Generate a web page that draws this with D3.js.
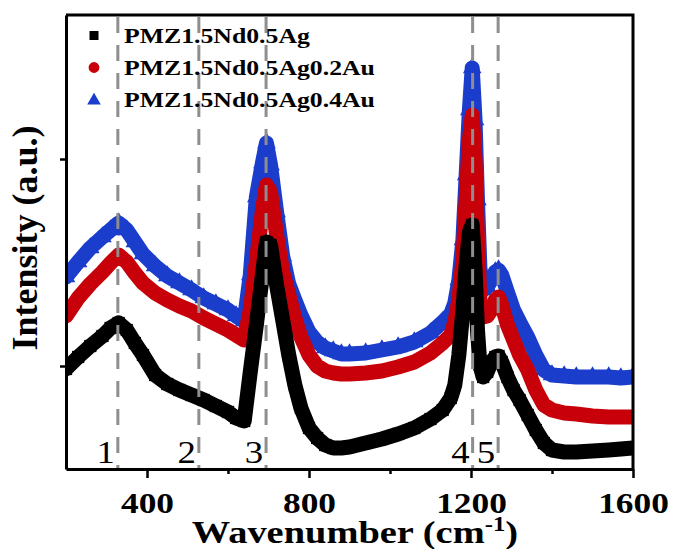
<!DOCTYPE html>
<html>
<head>
<meta charset="utf-8">
<script src="https://cdn.jsdelivr.net/npm/d3@7"></script>
<style>
  html, body { margin: 0; padding: 0; background: #fff; }
  svg { display: block; }
</style>
</head>
<body>
<svg id="chart" width="673" height="549"></svg>
<script>
// Raman spectra of PMZ1.5Nd0.5Ag ceramics with increasing Au content
const wavenumbers = [
  200, 230, 260, 290, 310, 330, 350, 370, 390, 420,
  450, 480, 510, 540, 570, 600, 620, 640, 655, 670,
  685, 695, 705, 720, 735, 750, 765, 780, 800, 820,
  840, 860, 880, 900, 940, 980, 1020, 1060, 1100, 1130,
  1150, 1160, 1170, 1180, 1188, 1196, 1203, 1210, 1216, 1222,
  1230, 1240, 1250, 1260, 1268, 1276, 1290, 1305, 1320, 1340,
  1360, 1380, 1400, 1430, 1460, 1500, 1540, 1570, 1600
];

// intensity (a.u.), one value per wavenumber
const intensityAg = [
  1000, 1120, 1230, 1330, 1410, 1460, 1390, 1260, 1140, 940,
  850, 790, 740, 690, 630, 570, 510, 480, 970, 1440,
  1940, 2270, 2240, 1840, 1490, 1140, 840, 610, 410, 310,
  240, 210, 210, 220, 260, 300, 350, 410, 500, 590,
  710, 840, 1140, 1590, 2040, 2370, 2440, 1990, 1390, 1040,
  920, 970, 1070, 1120, 1130, 1070, 920, 790, 690, 540,
  390, 260, 190, 170, 170, 180, 190, 200, 210
];
const intensityAg02Au = [
  1530, 1710, 1850, 1970, 2060, 2140, 2070, 1960, 1860, 1760,
  1690, 1630, 1580, 1510, 1450, 1390, 1340, 1290, 1590, 2070,
  2590, 2840, 2770, 2340, 1970, 1740, 1510, 1320, 1140, 1030,
  980, 960, 950, 950, 960, 980, 1020, 1070, 1160, 1260,
  1340, 1470, 1690, 2090, 2690, 3290, 3540, 3090, 2290, 1690,
  1520, 1530, 1590, 1690, 1720, 1640, 1440, 1290, 1140, 990,
  790, 640, 590, 560, 550, 530, 520, 520, 520
];
const intensityAg04Au = [
  1920, 2070, 2210, 2320, 2390, 2460, 2390, 2270, 2150, 2030,
  1930, 1860, 1790, 1710, 1650, 1590, 1530, 1480, 1940, 2720,
  3060, 3260, 3040, 2570, 2130, 1850, 1690, 1540, 1370, 1270,
  1210, 1180, 1150, 1150, 1160, 1190, 1220, 1270, 1360, 1470,
  1550, 1660, 1890, 2290, 2940, 3590, 4010, 3490, 2690, 2010,
  1790, 1820, 1890, 1970, 1990, 1940, 1770, 1590, 1470, 1320,
  1140, 990, 940, 930, 920, 920, 920, 910, 920
];

const seriesNames = ["PMZ1.5Nd0.5Ag", "PMZ1.5Nd0.5Ag0.2Au", "PMZ1.5Nd0.5Ag0.4Au"];
const seriesColors = ["#000000", "#c8000a", "#1b3dcc"];
const seriesSymbols = [d3.symbolSquare, d3.symbolCircle, d3.symbolTriangle];

const xTickValues = [400, 800, 1200, 1600];
const xMinorTickValues = [600, 1000, 1400];
const yTickValues = [1030, 3100];

// Raman mode positions marked with dashed lines
const bandPositions = [328, 528, 694, 1204, 1267];
const bandLabels = ["1", "2", "3", "4", "5"];

const svg = d3.select("#chart");
const W = 673, H = 549;
const plot = { left: 66, right: 633, top: 15, bottom: 469 };

svg.append("rect").attr("width", W).attr("height", H).attr("fill", "#fff");

const x = d3.scaleLinear().domain([200, 1600]).range([plot.left, plot.right]);
const y = d3.scaleLinear().domain([0, 4540]).range([plot.bottom, plot.top]);

svg.append("defs").append("clipPath").attr("id", "plotClip")
  .append("rect")
  .attr("x", plot.left).attr("y", plot.top)
  .attr("width", plot.right - plot.left).attr("height", plot.bottom - plot.top);

const series = [intensityAg, intensityAg02Au, intensityAg04Au].map((vals, i) => ({
  name: seriesNames[i],
  color: seriesColors[i],
  symbol: seriesSymbols[i],
  points: wavenumbers.map((w, j) => ({ w, v: vals[j] }))
}));

const dataLayer = svg.append("g").attr("clip-path", "url(#plotClip)");
const line = d3.line().x(d => x(d.w)).y(d => y(d.v));

// draw the 0.4Au trace first so the lower spectra sit on top of it
series.slice().reverse().forEach(s => {
  const g = dataLayer.append("g");
  g.append("path")
    .datum(s.points)
    .attr("d", line)
    .attr("fill", "none")
    .attr("stroke", s.color)
    .attr("stroke-width", 15)
    .attr("stroke-linejoin", "round")
    .attr("stroke-linecap", "round");
  const sym = d3.symbol().type(s.symbol).size(150);
  g.selectAll("path.pt")
    .data(s.points)
    .join("path")
    .attr("class", "pt")
    .attr("d", sym)
    .attr("transform", d => `translate(${x(d.w)},${y(d.v)})`)
    .attr("fill", s.color);
});

// dashed guide lines for the Raman modes
svg.append("g")
  .selectAll("line")
  .data(bandPositions)
  .join("line")
  .attr("x1", d => x(d)).attr("x2", d => x(d))
  .attr("y1", plot.top + 2).attr("y2", plot.bottom)
  .attr("stroke", "#8e8e8e")
  .attr("stroke-width", 3)
  .attr("stroke-dasharray", "16,12");

const serif = "'Liberation Serif', 'Times New Roman', serif";

// horizontally widened text helper
function wideText(parent, tx, ty, str, size, weight, sx, anchor) {
  const g = parent.append("g").attr("transform", `translate(${tx},${ty}) scale(${sx},1)`);
  return g.append("text")
    .attr("x", 0).attr("y", 0)
    .attr("text-anchor", anchor)
    .attr("font-family", serif)
    .attr("font-size", size)
    .attr("font-weight", weight)
    .attr("fill", "#000")
    .text(str);
}

// mode labels
const labelLayer = svg.append("g");
bandPositions.forEach((p, i) => {
  wideText(labelLayer, x(p) - 3, 463, bandLabels[i], 32, "normal", 1.15, "end");
});

// frame
svg.append("path")
  .attr("d", `M${plot.left},${plot.top}H${plot.right}V${plot.bottom}`)
  .attr("fill", "none")
  .attr("stroke", "#000")
  .attr("stroke-width", 3);

// x axis
const xAxis = svg.append("g")
  .attr("transform", `translate(0,${plot.bottom})`)
  .call(d3.axisBottom(x).tickValues(xTickValues).tickFormat(d3.format("d"))
    .tickSize(9).tickPadding(6).tickSizeOuter(0));
xAxis.select(".domain").attr("stroke-width", 3);
xAxis.selectAll(".tick line").attr("stroke-width", 2.5);
xAxis.selectAll(".tick text")
  .attr("font-family", serif)
  .attr("font-size", 29)
  .attr("font-weight", "bold")
  .attr("fill", "#000")
  .attr("dy", null)
  .attr("y", 44)
  .attr("transform", "scale(1.22,1)");

const xMinor = svg.append("g")
  .attr("transform", `translate(0,${plot.bottom})`)
  .call(d3.axisBottom(x).tickValues(xMinorTickValues).tickSize(5).tickFormat("").tickSizeOuter(0));
xMinor.select(".domain").remove();
xMinor.selectAll(".tick line").attr("stroke-width", 2.5);

// y axis (unlabelled ticks)
const yAxis = svg.append("g")
  .attr("transform", `translate(${plot.left},0)`)
  .call(d3.axisLeft(y).tickValues(yTickValues).tickSize(6).tickFormat("").tickSizeOuter(0));
yAxis.select(".domain").attr("stroke-width", 3);
yAxis.selectAll(".tick line").attr("stroke-width", 2.5);

// axis titles
const xt = wideText(svg, 355, 543, "Wavenumber (cm", 31, "bold", 1.24, "middle");
xt.append("tspan").attr("font-size", 20).attr("dy", -12).text("-1");
xt.append("tspan").attr("dy", 12).text(")");

svg.append("text")
  .attr("transform", "translate(37,238) rotate(-90)")
  .attr("text-anchor", "middle")
  .attr("font-family", serif)
  .attr("font-size", 36)
  .attr("font-weight", "bold")
  .attr("fill", "#000")
  .text("Intensity (a.u.)");

// legend
const legend = svg.append("g");
const legendRows = [35.5, 67.5, 99.5];
const legendSizes = [81, 92, 80];
series.forEach((s, i) => {
  legend.append("path")
    .attr("d", d3.symbol().type(s.symbol).size(legendSizes[i]))
    .attr("transform", `translate(94,${legendRows[i] + (i === 2 ? 1 : 0)})`)
    .attr("fill", s.color);
  wideText(legend, 124, legendRows[i] + 7.5, s.name, 22, "bold", 1.17, "start");
});
</script>
</body>
</html>
